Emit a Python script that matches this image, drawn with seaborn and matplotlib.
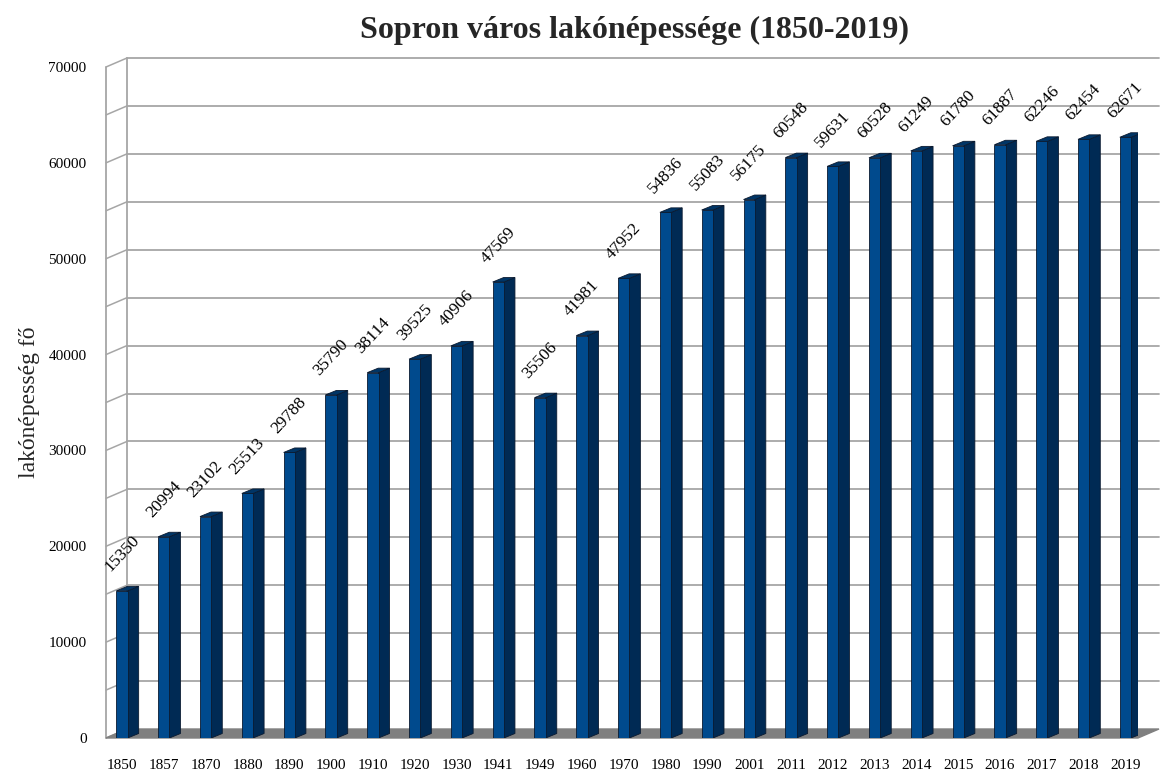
import matplotlib
matplotlib.use("Agg")
import matplotlib.pyplot as plt
import seaborn as sns
import pandas as pd

# Sopron population by census year
years = ["1850", "1857", "1870", "1880", "1890", "1900", "1910", "1920", "1930",
         "1941", "1949", "1960", "1970", "1980", "1990", "2001", "2011", "2012",
         "2013", "2014", "2015", "2016", "2017", "2018", "2019"]
population = [15350, 20994, 23102, 25513, 29788, 35790, 38114, 39525, 40906,
              47569, 35506, 41981, 47952, 54836, 55083, 56175, 60548, 59631,
              60528, 61249, 61780, 61887, 62246, 62454, 62671]
y_ticks = [0, 10000, 20000, 30000, 40000, 50000, 60000, 70000]
grid_levels = list(range(0, 70001, 5000))

df = pd.DataFrame({"year": years, "pop": population})

sns.set_theme(style="white")
plt.rcParams["font.family"] = ["Liberation Serif", "DejaVu Serif"]

FRONT = "#004a8d"
SIDE = "#002a54"
TOP = "#003566"
WALL = "#a6a6a6"

fig = plt.figure(figsize=(11.62, 7.74), dpi=100)
W, H = 1162, 774
# front plane of the pseudo-3D box, in pixels
left_px, right_px, bot_px, top_px = 106, 1138, 738, 67
ax = fig.add_axes([left_px / W, 1 - bot_px / H,
                   (right_px - left_px) / W, (bot_px - top_px) / H])

sns.barplot(data=df, x="year", y="pop", width=0.27, color=FRONT, saturation=1,
            edgecolor="#0a1a30", linewidth=0.6, ax=ax, zorder=4)

x0, x1 = -0.383, 24.3
ax.set_xlim(x0, x1)
ax.set_ylim(0, 70000)

# pixel -> data helpers
px_x = (x1 - x0) / (right_px - left_px)
px_y = 70000 / (bot_px - top_px)
wall_dx, wall_dy = 21 * px_x, 9 * px_y
bar_dx, bar_dy = 11 * px_x, 4.5 * px_y

# floor
ax.fill([x0, x1, x1 + wall_dx, x0 + wall_dx], [0, 0, wall_dy, wall_dy],
        color="#808080", zorder=2, clip_on=False)

# back wall grid + side wall
for lv in grid_levels:
    if lv > 0:
        ax.plot([x0 + wall_dx, x1 + wall_dx], [lv + wall_dy, lv + wall_dy],
                color=WALL, lw=1.3, zorder=1, clip_on=False)
    ax.plot([x0, x0 + wall_dx], [lv, lv + wall_dy], color=WALL, lw=1.1,
            zorder=1, clip_on=False)
ax.plot([x0 + wall_dx, x0 + wall_dx], [wall_dy, 70000 + wall_dy], color=WALL,
        lw=1.3, zorder=1, clip_on=False)
ax.plot([x0, x0], [0, 70000], color=WALL, lw=1.3, zorder=1, clip_on=False)

# 3D sides and tops of bars
for p in ax.patches[:len(years)]:
    bx, bw, bh = p.get_x(), p.get_width(), p.get_height()
    ax.fill([bx + bw, bx + bw + bar_dx, bx + bw + bar_dx, bx + bw],
            [0, bar_dy, bh + bar_dy, bh], color=SIDE, ec="#0a1a30", lw=0.6,
            zorder=3)
    ax.fill([bx, bx + bw, bx + bw + bar_dx, bx + bar_dx],
            [bh, bh, bh + bar_dy, bh + bar_dy], color=TOP, ec="#0a1a30",
            lw=0.6, zorder=5)
    ax.annotate(f"{int(bh)}", (bx + bw / 2, bh), xytext=(0, 37),
                textcoords="offset pixels", rotation=47, ha="center",
                va="center", fontsize=12.5, color="black", zorder=6)

for s in ax.spines.values():
    s.set_visible(False)
ax.set_yticks(y_ticks)
ax.set_yticklabels([str(t) for t in y_ticks])
ax.tick_params(axis="y", length=0, pad=14, labelsize=11, colors="black")
ax.tick_params(axis="x", length=0, pad=15, labelsize=11, colors="black")
ax.set_xlabel("")
ax.set_ylabel("lakónépesség fő", fontsize=17)
ax.yaxis.set_label_coords(-0.064, 0.5)

fig.text(634 / W, 1 - 30 / H, "Sopron város lakónépessége (1850-2019)",
         ha="center", va="center", fontsize=23, fontweight="bold")

fig.savefig("out.png", dpi=100)
